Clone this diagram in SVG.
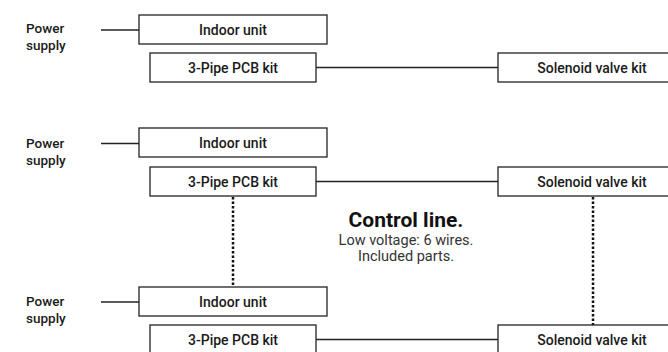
<svg xmlns="http://www.w3.org/2000/svg" width="668" height="352" viewBox="0 0 668 352">
<style>
.box{fill:#fff;stroke:#222;stroke-width:1.3}
.ln{stroke:#222;stroke-width:1.3;fill:none}
.dot{stroke:#111;stroke-width:2.5;stroke-dasharray:2.5 2;fill:none}
.lbl{font-family:Roboto,"Liberation Sans",sans-serif;font-weight:500;font-size:14px;fill:#1a1a1a;text-anchor:middle}
.ps{font-family:Roboto,"Liberation Sans",sans-serif;font-weight:500;font-size:13.5px;fill:#1a1a1a}
.t1{font-family:Roboto,"Liberation Sans",sans-serif;font-weight:700;font-size:21px;fill:#111;text-anchor:middle}
.t2{font-family:Roboto,"Liberation Sans",sans-serif;font-weight:400;font-size:14.5px;fill:#333;text-anchor:middle}
</style>
<rect width="668" height="352" fill="#fff"/>
<g id="connectors">
<line class="ln" x1="101" y1="30" x2="139" y2="30"/>
<line class="ln" x1="316" y1="67.5" x2="498" y2="67.5"/>
<line class="ln" x1="101" y1="143.5" x2="139" y2="143.5"/>
<line class="ln" x1="316" y1="181.5" x2="498" y2="181.5"/>
<line class="ln" x1="101" y1="302" x2="139" y2="302"/>
<line class="ln" x1="316" y1="339.5" x2="498" y2="339.5"/>
<line class="dot" x1="233" y1="197" x2="233" y2="287"/>
<line class="dot" x1="593" y1="197" x2="593" y2="325"/>
</g>
<g id="power1"><text class="ps" x="26" y="33">Power</text><text class="ps" x="26" y="50">supply</text></g>
<g id="indoor1"><rect class="box" x="139" y="15" width="188" height="29"/><text class="lbl" x="233" y="34.5">Indoor unit</text></g>
<g id="pcb1"><rect class="box" x="150" y="53" width="166" height="29"/><text class="lbl" x="233" y="72.5">3-Pipe PCB kit</text></g>
<g id="sol1"><rect class="box" x="498" y="53" width="180" height="29"/><text class="lbl" x="592" y="72.5">Solenoid valve kit</text></g>
<g id="power2"><text class="ps" x="26" y="148">Power</text><text class="ps" x="26" y="165">supply</text></g>
<g id="indoor2"><rect class="box" x="139" y="128" width="188" height="29"/><text class="lbl" x="233" y="147.5">Indoor unit</text></g>
<g id="pcb2"><rect class="box" x="150" y="167" width="166" height="29"/><text class="lbl" x="233" y="186.5">3-Pipe PCB kit</text></g>
<g id="sol2"><rect class="box" x="498" y="167" width="180" height="29"/><text class="lbl" x="592" y="186.5">Solenoid valve kit</text></g>
<g id="control"><text class="t1" x="406" y="227">Control line.</text><text class="t2" x="406" y="244.5">Low voltage: 6 wires.</text><text class="t2" x="406" y="261">Included parts.</text></g>
<g id="power3"><text class="ps" x="26" y="306">Power</text><text class="ps" x="26" y="323">supply</text></g>
<g id="indoor3"><rect class="box" x="139" y="287" width="188" height="29"/><text class="lbl" x="233" y="306.5">Indoor unit</text></g>
<g id="pcb3"><rect class="box" x="150" y="325" width="166" height="29"/><text class="lbl" x="233" y="344.5">3-Pipe PCB kit</text></g>
<g id="sol3"><rect class="box" x="498" y="325" width="180" height="29"/><text class="lbl" x="592" y="344.5">Solenoid valve kit</text></g>
</svg>
